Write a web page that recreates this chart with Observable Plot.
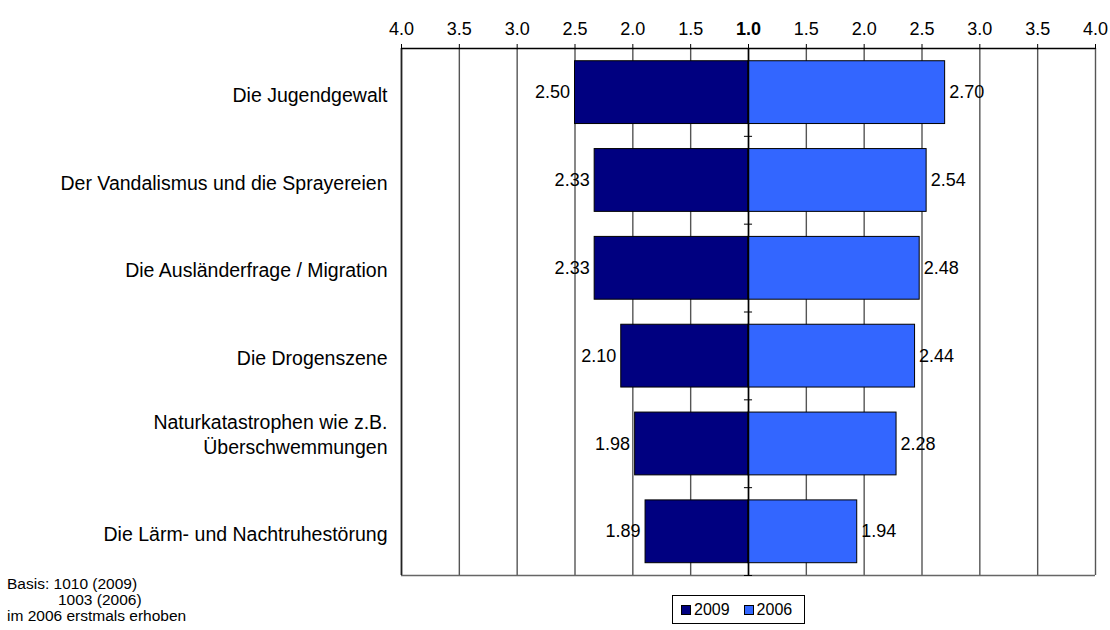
<!DOCTYPE html>
<html>
<head>
<meta charset="utf-8">
<script src="https://cdn.jsdelivr.net/npm/d3@7"></script>
<script src="https://cdn.jsdelivr.net/npm/@observablehq/plot@0.6"></script>
<style>
  body { margin: 0; background: #fff; font-family: Arial, "Liberation Sans", sans-serif; }
  #wrap { position: relative; width: 1110px; height: 630px; overflow: hidden; }
  #foot { position: absolute; left: 7px; top: 576px; font-size: 15.5px; line-height: 16px; color: #000; }
  #foot .indent { padding-left: 51px; }
  #legend { position: absolute; left: 672px; top: 595px; width: 131px; height: 27px; border: 1px solid #000;
            display: flex; align-items: center; font-size: 16px; color: #000; box-sizing: content-box; }
  #legend .item { display: flex; align-items: center; margin-left: 8px; }
  #legend .item + .item { margin-left: 14px; }
  #legend .sw { width: 8px; height: 8px; border: 1px solid #000; margin-right: 3px; }
</style>
</head>
<body>
<div id="wrap">
  <div id="chart"></div>
  <div id="foot"></div>
  <div id="legend"></div>
</div>
<script>
const categories = [
  "Die Jugendgewalt",
  "Der Vandalismus und die Sprayereien",
  "Die Ausländerfrage / Migration",
  "Die Drogenszene",
  "Naturkatastrophen wie z.B.\nÜberschwemmungen",
  "Die Lärm- und Nachtruhestörung"
];
const values2009 = [2.50, 2.33, 2.33, 2.10, 1.98, 1.89];
const values2006 = [2.70, 2.54, 2.48, 2.44, 2.28, 1.94];
const seriesNames = ["2009", "2006"];
const seriesColors = ["#000080", "#3366FF"];
const tickValues = [-3, -2.5, -2, -1.5, -1, -0.5, 0, 0.5, 1, 1.5, 2, 2.5, 3];
const footnoteLines = ["Basis: 1010 (2009)", "1003 (2006)", "im 2006 erstmals erhoben"];

// Build rows: 2009 to the left (negative), 2006 to the right (positive), centre = 1.0
const rows = [];
categories.forEach((c, i) => {
  rows.push({cat: c, i, series: seriesNames[0], value: values2009[i], d: -(values2009[i] - 1)});
  rows.push({cat: c, i, series: seriesNames[1], value: values2006[i], d: (values2006[i] - 1)});
});
const catRows = categories.map((c, i) => ({c, i, multi: c.includes("\n")}));
const boundaries = d3.range(1, categories.length + 1);
const n = categories.length;

const W = 1110, H = 577;
const chart = Plot.plot({
  width: W,
  height: H,
  marginLeft: 401,
  marginRight: 15,
  marginTop: 48,
  marginBottom: 2,
  style: {fontFamily: "Arial, 'Liberation Sans', sans-serif", fontSize: "18px", color: "#000", background: "#fff"},
  x: {domain: [-3, 3], label: null},
  y: {domain: [0, n], reverse: true, axis: null},
  color: {domain: seriesNames, range: seriesColors},
  marks: [
    Plot.ruleX(tickValues, {x: d => d, y1: 0, y2: n, stroke: "#555", strokeWidth: 1.4}),
    Plot.ruleY([n], {stroke: "#666", strokeWidth: 1.6}),
    Plot.ruleX([-3], {y1: 0, y2: n, stroke: "#222", strokeWidth: 1.6}),
    Plot.ruleY([0], {stroke: "#000", strokeWidth: 1.4}),
    Plot.rectX(rows, {
      x1: 0, x2: "d",
      y1: r => r.i + 0.145, y2: r => r.i + 0.86,
      fill: "series", stroke: "#000", strokeWidth: 1
    }),
    Plot.ruleX([0], {y1: 0, y2: n, stroke: "#000", strokeWidth: 1.5}),
    Plot.ruleY(boundaries, {x1: -0.035, x2: 0.035, stroke: "#000", strokeWidth: 1}),
    Plot.text(rows.filter(r => r.series === seriesNames[0]), {
      x: "d", y: r => r.i + 0.5, text: r => r.value.toFixed(2),
      textAnchor: "end", dx: -5, fontSize: 18, fill: "#000"
    }),
    Plot.text(rows.filter(r => r.series === seriesNames[1]), {
      x: "d", y: r => r.i + 0.5, text: r => r.value.toFixed(2),
      textAnchor: "start", dx: 4, fontSize: 18, fill: "#000"
    }),
    Plot.text(catRows.filter(r => !r.multi), {
      x: -3, y: r => r.i + 0.5, text: r => r.c,
      textAnchor: "end", dx: -14, dy: 3, fontSize: 19.5, fill: "#000"
    }),
    Plot.text(catRows.filter(r => r.multi), {
      x: -3, y: r => r.i + 0.5, text: r => r.c,
      textAnchor: "end", dx: -14, dy: -10, fontSize: 19.5, lineHeight: 1.27, fill: "#000"
    }),
    Plot.axisX({
      anchor: "top", ticks: tickValues, tickSize: 5, tickPadding: 9, label: null,
      tickFormat: d => (1 + Math.abs(d)).toFixed(1), fontSize: 18, stroke: "#000", fill: "#000"
    })
  ]
});
document.getElementById("chart").appendChild(chart);
d3.select(chart).selectAll("text").filter(function() { return this.textContent === "1.0"; })
  .attr("font-weight", "bold");

// footnote
const foot = d3.select("#foot");
footnoteLines.forEach((t, i) => foot.append("div").attr("class", i === 1 ? "indent" : null).text(t));

// legend
const leg = d3.select("#legend");
seriesNames.forEach((s, i) => {
  const it = leg.append("div").attr("class", "item");
  it.append("div").attr("class", "sw").style("background", seriesColors[i]);
  it.append("span").text(s);
});
</script>
</body>
</html>
